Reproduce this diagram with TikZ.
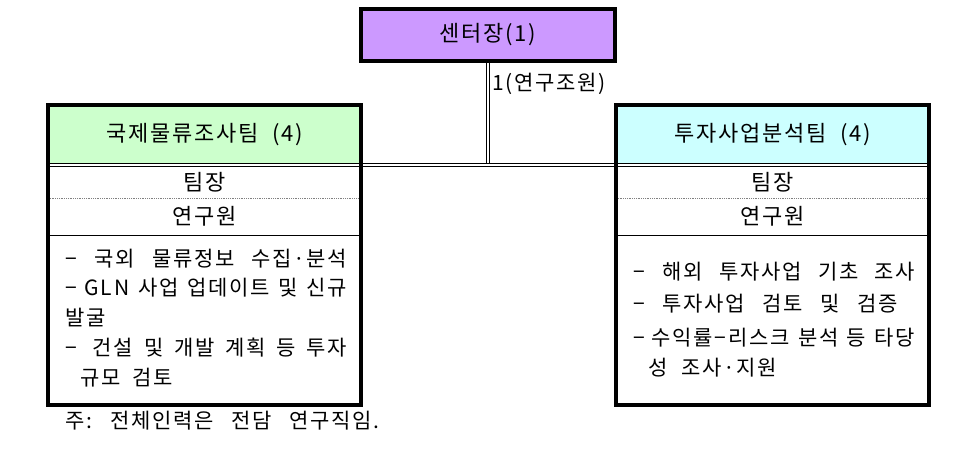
\documentclass[tikz,border=0pt]{standalone}
\usepackage{fontspec}
\setmainfont[LetterSpace=8]{Noto Sans CJK KR}
\usepackage{xcolor}
\usetikzlibrary{positioning}

\definecolor{chiefpurple}{HTML}{CC99FF}
\definecolor{teamgreen}{HTML}{CCFFCC}
\definecolor{teamcyan}{HTML}{CCFFFF}

\newcommand{\dashlead}[1]{−\hspace{#1}}

\tikzset{
	boxframe/.style={draw, line width=4.pt, minimum width=313pt, minimum height=300pt, inner sep=0pt},
	headfill/.style={minimum width=313pt, minimum height=60pt, inner sep=0pt, font=\fontsize{22}{26}\selectfont},
	dline/.style={double distance=2pt, line width=1.pt},
	rowtext/.style={inner sep=0pt, font=\fontsize{22}{26}\selectfont},
	itemtext/.style={anchor=west, inner sep=0pt, font=\fontsize{21}{25}\selectfont},
	rowsep/.style={gray, densely dotted, line width=0.8pt},
	itemsep/.style={line width=1.pt}
}

\begin{document}
\begin{tikzpicture}[line cap=butt,line join=miter,x=1pt,y=-1pt]
			\useasboundingbox (0,0) rectangle (965,453);
			% team headers
			\node[headfill, fill=teamgreen] (lhead) at (204.5,135) {국제물류조사팀\hspace{14pt}(4)};
			\node[headfill, fill=teamcyan] (rhead) at (772.5,135) {투자사업분석팀\hspace{14pt}(4)};
			% double connectors
			\draw[dline] (488,61) -- (488,165);
			\draw[dline] (lhead.south west) -- (rhead.south east);
			\node[draw, fill=chiefpurple, line width=4.pt, minimum width=254pt, minimum height=52pt, font=\fontsize{22}{26}\selectfont] (chief) at (488,35) {센터장(1)};
			\node[anchor=west, inner sep=0pt, font=\fontsize{21}{25}\selectfont] (aide) at (492,84) {1(연구조원)};
			% rows
			\node[rowtext] (lleader) at (204.5,182) {팀장};
			\node[rowtext] (lstaff) at (204.5,216) {연구원};
			\node[rowtext] (rleader) at (772.5,182) {팀장};
			\node[rowtext] (rstaff) at (772.5,216) {연구원};
			\draw[rowsep] (48,198) -- (361,198);
			\draw[rowsep] (616,198) -- (929,198);
			\draw[itemsep] (48,235) -- (361,235);
			\draw[itemsep] (616,235) -- (929,235);
			% tasks
			\node[itemtext] (l1) at (65,259) {\makebox[282pt][s]{\dashlead{18pt}국외 물류정보 수집·분석}};
			\node[itemtext] (l2) at (65,288) {\makebox[282pt][s]{\dashlead{8pt}GLN 사업 업데이트 및 신규}};
			\node[itemtext] (l3) at (65,318) {발굴};
			\node[itemtext] (l4) at (65,348) {\makebox[282pt][s]{\dashlead{16pt}건설 및 개발 계획 등 투자}};
			\node[itemtext] (l5) at (80,378) {규모\hspace{12pt}검토};
			\node[itemtext] (r1) at (633,272) {\makebox[282pt][s]{\dashlead{18pt}해외 투자사업 기초 조사}};
			\node[itemtext] (r2) at (633,304) {\makebox[265pt][s]{\dashlead{18pt}투자사업 검토 및 검증}};
			\node[itemtext] (r3) at (633,338) {\makebox[282pt][s]{\dashlead{7pt}수익률−리스크 분석 등 타당}};
			\node[itemtext] (r4) at (648,368) {성\hspace{14pt}조사·지원};
			% frames
			\node[boxframe] (lbox) at (204.5,254.5) {};
			\node[boxframe] (rbox) at (772.5,255) {};
			\node[itemtext] (note) at (65,421) {주:\hspace{18pt}전체인력은\hspace{18pt}전담\hspace{18pt}연구직임.};
			\end{tikzpicture}
\end{document}
